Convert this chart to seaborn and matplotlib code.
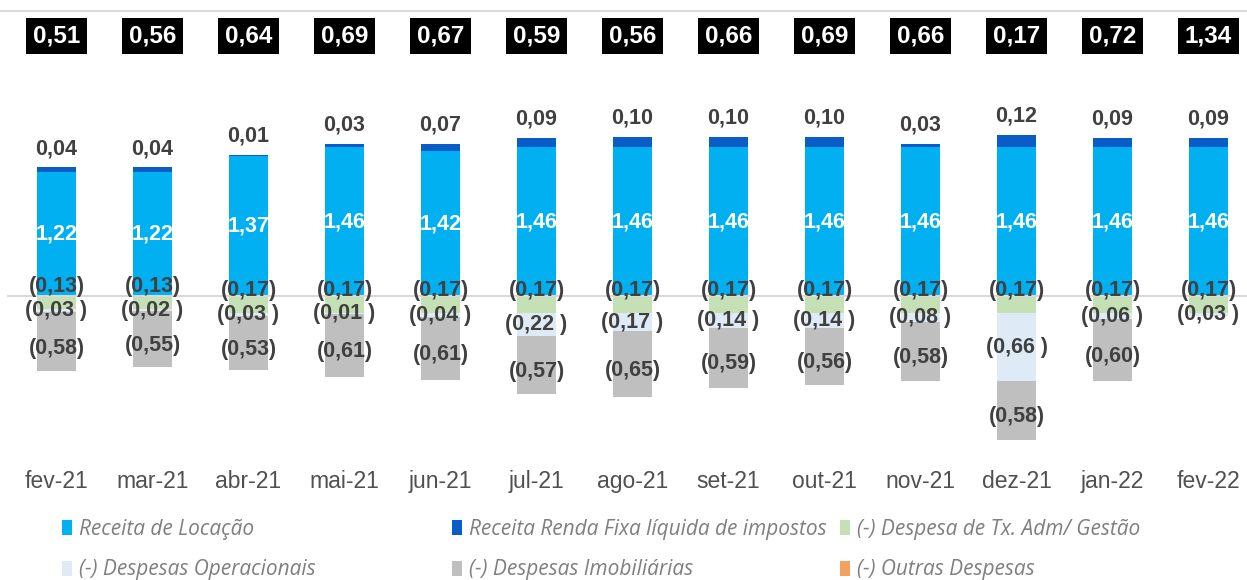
import numpy as np
import pandas as pd
import matplotlib
matplotlib.use("Agg")
import matplotlib.pyplot as plt
import seaborn as sns
from matplotlib.patches import Patch

# ---------------- data ----------------
months = ["fev-21", "mar-21", "abr-21", "mai-21", "jun-21", "jul-21", "ago-21",
          "set-21", "out-21", "nov-21", "dez-21", "jan-22", "fev-22"]
receita_locacao = [1.22, 1.22, 1.37, 1.46, 1.42, 1.46, 1.46, 1.46, 1.46, 1.46, 1.46, 1.46, 1.46]
receita_renda_fixa = [0.04, 0.04, 0.01, 0.03, 0.07, 0.09, 0.10, 0.10, 0.10, 0.03, 0.12, 0.09, 0.09]
despesa_tx_adm = [-0.13, -0.13, -0.17, -0.17, -0.17, -0.17, -0.17, -0.17, -0.17, -0.17, -0.17, -0.17, -0.17]
despesas_operacionais = [-0.03, -0.02, -0.03, -0.01, -0.04, -0.22, -0.17, -0.14, -0.14, -0.08, -0.66, -0.06, -0.03]
despesas_imobiliarias = [-0.58, -0.55, -0.53, -0.61, -0.61, -0.57, -0.65, -0.59, -0.56, -0.58, -0.58, -0.60, 0.0]
outras_despesas = [0.0, 0.0, 0.0, 0.0, 0.0, 0.0, 0.0, 0.0, 0.0, 0.0, 0.0, 0.0, 0.0]
resultado = [0.51, 0.56, 0.64, 0.69, 0.67, 0.59, 0.56, 0.66, 0.69, 0.66, 0.17, 0.72, 1.34]

series_names = ["Receita de Locação", "Receita Renda Fixa líquida de impostos",
                "(-) Despesa de Tx. Adm/ Gestão", "(-) Despesas Operacionais",
                "(-) Despesas Imobiliárias", "(-) Outras Despesas"]
colors = ["#00B0F0", "#0A5CC7", "#C5E0B4", "#DEEBF7", "#BFBFBF", "#F4A05E"]

df = pd.DataFrame({
    "month": months,
    "loc": receita_locacao,
    "fixa": receita_renda_fixa,
    "adm": despesa_tx_adm,
    "op": despesas_operacionais,
    "imob": despesas_imobiliarias,
    "outras": outras_despesas,
})
# cumulative layers (drawn back-to-front)
df["pos_top"] = df["loc"] + df["fixa"]
df["neg_outras"] = df["adm"] + df["op"] + df["imob"] + df["outras"]
df["neg_imob"] = df["adm"] + df["op"] + df["imob"]
df["neg_op"] = df["adm"] + df["op"]

sns.set_theme(style="white")
plt.rcParams["font.family"] = ["DejaVu Sans"]

W, H = 1247, 580
fig = plt.figure(figsize=(W / 100, H / 100), dpi=100)
ax_top_px, ax_bot_px = 11, 455
ax = fig.add_axes([0, 1 - ax_bot_px / H, 1, (ax_bot_px - ax_top_px) / H])

bw = 0.41
layers = [("pos_top", colors[1]), ("loc", colors[0]),
          ("neg_outras", colors[5]), ("neg_imob", colors[4]),
          ("neg_op", colors[3]), ("adm", colors[2])]
for col, c in layers:
    sns.barplot(data=df, x="month", y=col, color=c, saturation=1, width=bw,
                linewidth=0, edgecolor="none", ax=ax, errorbar=None)

# axis limits: zero at px 296, 102 px per unit
zero_px, ppu = 296, 102.0
ax.set_ylim(-(ax_bot_px - zero_px) / ppu, (zero_px - ax_top_px) / ppu)
step_px = 96.0
first_center_px = 56.5
xl = -first_center_px / step_px
ax.set_xlim(xl, xl + W / step_px)

for s in ["left", "right", "bottom"]:
    ax.spines[s].set_visible(False)
ax.spines["top"].set_color("#D9D9D9")
ax.spines["top"].set_linewidth(1.5)
ax.axhline(0, xmin=8 / W, xmax=1, color="#D9D9D9", lw=1.5, zorder=3)

ax.set_xlabel("")
ax.set_ylabel("")
ax.set_yticks([])
ax.tick_params(axis="x", length=0, pad=11)
for t in ax.get_xticklabels():
    t.set_fontfamily("Liberation Sans")
    t.set_fontsize(16.5)
    t.set_color("#505050")


def fmt(v):
    return f"{abs(v):.2f}".replace(".", ",")


lab_font = dict(family="Liberation Sans", weight="bold", fontsize=15.5)
dark = "#404040"
for i, r in df.iterrows():
    # receita locação (white inside)
    ax.text(i, r["loc"] / 2, fmt(r["loc"]), ha="center", va="center",
            color="white", zorder=5, **lab_font)
    # renda fixa (above bar)
    ax.annotate(fmt(r["fixa"]), xy=(i, r["pos_top"]), xytext=(0, 6),
                textcoords="offset points", ha="center", va="bottom",
                color=dark, zorder=5, **lab_font)
    # tx adm
    ax.annotate(f"({fmt(r['adm'])})", xy=(i, r["adm"]), xytext=(0, 16.5),
                textcoords="offset points", ha="center", va="center",
                color=dark, zorder=5, **lab_font)
    # operacionais
    if r["op"] != 0:
        ax.text(i, r["adm"] + r["op"] / 2, f"({fmt(r['op'])} )", ha="center",
                va="center", color=dark, zorder=5, **lab_font)
    # imobiliarias
    if r["imob"] != 0:
        ax.annotate(f"({fmt(r['imob'])})", xy=(i, r["neg_op"] + r["imob"] / 2),
                    xytext=(0, -4.5), textcoords="offset points", ha="center",
                    va="center", color=dark, zorder=5, **lab_font)
    # resultado (black boxes)
    ax.text(i, (zero_px - 36) / ppu, fmt(resultado[i]), ha="center", va="center",
            color="white", family="Liberation Sans", weight="bold", fontsize=17.5,
            zorder=6, bbox=dict(boxstyle="square,pad=0.28", fc="black", ec="none"))

# legend: two rows, three columns
leg_x = [62, 452, 840]
leg_y = [529, 570]
for k, (name, c) in enumerate(zip(series_names, colors)):
    row, colk = divmod(k, 3)
    lg = fig.legend(handles=[Patch(facecolor=c, edgecolor="none")], labels=[name],
                    loc="center left",
                    bbox_to_anchor=(leg_x[colk] / W, 1 - leg_y[row] / H),
                    frameon=False, handlelength=0.5, handleheight=0.75,
                    handletextpad=0.3, borderpad=0, borderaxespad=0,
                    prop=dict(family="Open Sans", style="italic", size=15))
    for t in lg.get_texts():
        t.set_color("#7F7F7F")

fig.savefig("out.png", dpi=100)
